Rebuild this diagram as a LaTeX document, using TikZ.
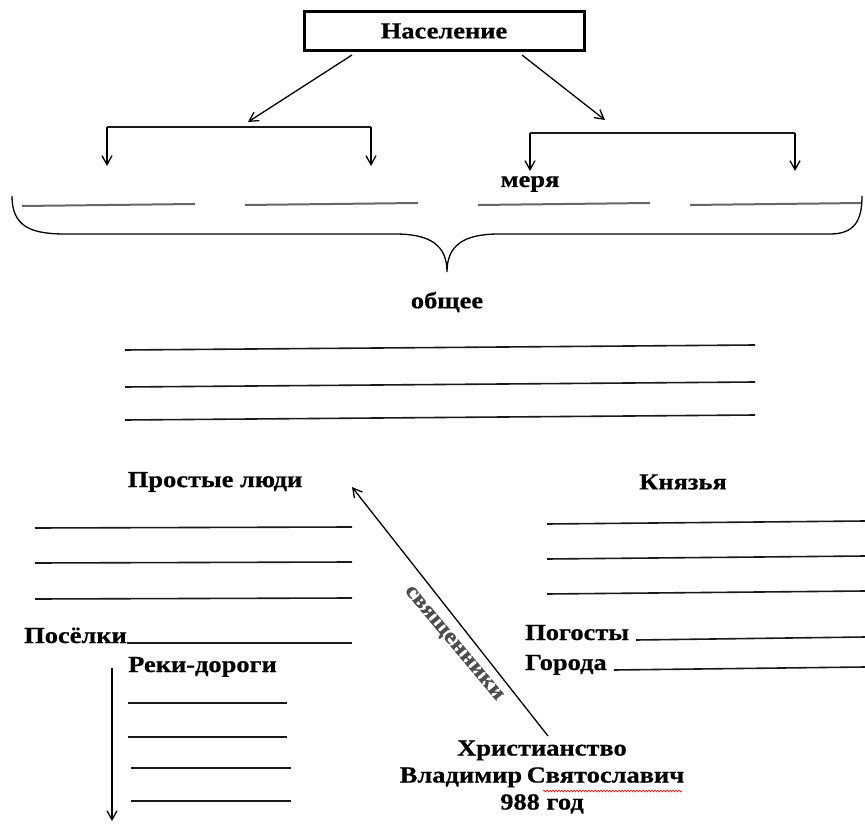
\documentclass[tikz,border=0pt]{standalone}
\usepackage{fontspec}
\setmainfont{Liberation Serif}[FakeStretch=1.15,BoldFeatures={FakeBold=0.6}]
\usetikzlibrary{arrows.meta,decorations.pathmorphing}
\begin{document}
\begin{tikzpicture}[x=1pt,y=-1pt,
  txt/.style={font=\bfseries\fontsize{23}{27}\selectfont, inner sep=0pt},
  ln/.style={line width=1.6pt, black!90},
  gl/.style={line width=2pt, black!60},
  arr/.style={line width=1.3pt, -{Straight Barb[length=9pt,width=10pt]}},
  ]
\useasboundingbox (0,0) rectangle (865,826);
% top box
\node[txt, draw, line width=3pt, minimum width=280pt, minimum height=39pt] (pop) at (444,31) {Население};
\coordinate (pl) at (352,55);
\coordinate (pr) at (522,55);
\coordinate (al) at (248,122);
\coordinate (ar) at (605,120);
\draw[arr] (pl) -- (al);
\draw[arr] (pr) -- (ar);
% left bracket
\coordinate (lb1) at (107,127);
\coordinate (lb2) at (371,127);
\coordinate (lb1e) at (107,166);
\coordinate (lb2e) at (371,166);
\draw[ln] (lb1) -- (lb2);
\draw[arr] (lb1) -- (lb1e);
\draw[arr] (lb2) -- (lb2e);
% right bracket
\coordinate (rb1) at (530,133);
\coordinate (rb2) at (795,133);
\coordinate (rb1e) at (530,171);
\coordinate (rb2e) at (795,171);
\draw[ln] (rb1) -- (rb2);
\draw[arr] (rb1) -- (rb1e);
\draw[arr] (rb2) -- (rb2e);
\node[txt] (merya) at (530,184) {меря};
% four short lines
\draw[gl] (22,206) -- (195,204);
\draw[gl] (245,205) -- (418,203);
\draw[gl] (478,205) -- (650,203);
\draw[gl] (690,205) -- (862,203);
% brace
\draw[line width=1.3pt] (12,196) .. controls (12,226) and (30,234) .. (65,234)
  -- (395,234) .. controls (430,234) and (447,245) .. (447,272)
  .. controls (447,245) and (464,234) .. (499,234)
  -- (830,234) .. controls (855,234) and (862,220) .. (862,196);
\node[txt] (obsh) at (447,302) {общее};
% three long lines
\draw[ln] (125,350) -- (755,345);
\draw[ln] (125,387) -- (755,382);
\draw[ln] (125,420) -- (755,415);
% left column
\node[txt] (prost) at (215,482) {Простые люди};
\draw[ln] (35,528) -- (352,527);
\draw[ln] (35,563) -- (352,562);
\draw[ln] (35,599) -- (352,598);
\node[txt, anchor=base west] (pos) at (24,643) {Посёлки};
\draw[ln] (pos.base east) -- (352,643);
\node[txt, anchor=base west] (reki) at (128,672) {Реки-дороги};
\coordinate (dt) at (112,668);
\coordinate (db) at (112,821);
\draw[arr] (dt) -- (db);
\draw[ln] (128,703) -- (287,703);
\draw[ln] (128,737) -- (287,737);
\draw[ln] (131,768) -- (291,768);
\draw[ln] (131,801) -- (291,801);
% right column
\node[txt] (kn) at (683,482) {Князья};
\draw[ln] (547,524) -- (865,521);
\draw[ln] (547,559) -- (865,556);
\draw[ln] (547,594) -- (865,591);
\node[txt, anchor=base west] (pog) at (525,640) {Погосты};
\draw[ln] ([xshift=7pt]pog.base east) -- (865,637);
\node[txt, anchor=base west] (gor) at (525,670) {Города};
\draw[ln] ([xshift=7pt]gor.base east) -- (865,667);
% christianity
\node[txt, align=center] (chr) at (542,777) {Христианство\\Владимир\hspace{-2pt} Святославич\\988 год};
\coordinate (cs) at (548,736);
\coordinate (ce) at (352,487);
\draw[arr] (cs) -- (ce);
\node[txt, rotate=-50, font=\bfseries\fontsize{22}{24}\selectfont, text=black!70] (svyas) at (453,644) {священники};
\coordinate (u1) at (543,791);
\coordinate (u2) at (682,791);
\draw[red, line width=0.6pt, decorate, decoration={snake, amplitude=0.9pt, segment length=3pt}] (u1) -- (u2);
\end{tikzpicture}
\end{document}
